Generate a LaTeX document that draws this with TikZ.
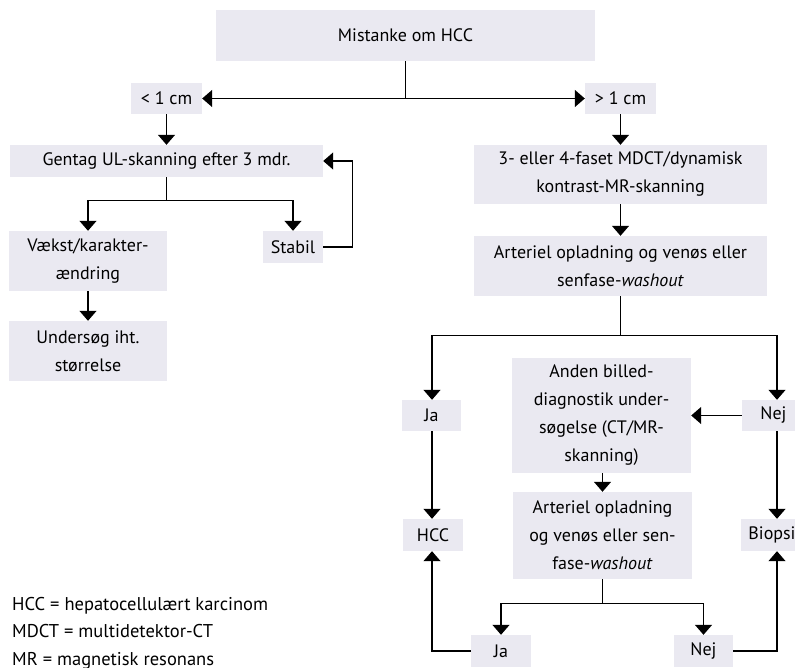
\documentclass[tikz,border=0pt]{standalone}
\usepackage{fontspec}
\setmainfont{PT Sans}
\usetikzlibrary{arrows.meta,calc}
\definecolor{boxfill}{RGB}{234,233,241}
\tikzset{
  box/.style={fill=boxfill, draw=none, inner sep=0pt, align=center,
    font=\fontsize{18}{28}\selectfont},
  conn/.style={line width=1.3pt, draw=black},
  arr/.style={conn, -{Triangle[width=17pt,length=10pt]}},
}
\begin{document}
\begin{tikzpicture}[x=1pt,y=-1pt]
\useasboundingbox (0,0) rectangle (795,668);
% nodes
\node[box, minimum width=379pt, minimum height=51pt] (top) at (405.5,35.5) {Mistanke om HCC};
\node[box, minimum width=71pt, minimum height=31pt] (lt) at (166.5,98.5) {< 1 cm};
\node[box, minimum width=71pt, minimum height=31pt] (gt) at (620.5,98.5) {> 1 cm};
\node[box, minimum width=313pt, minimum height=32pt] (gentag) at (166.5,161) {Gentag UL-skanning efter 3 mdr.};
\node[box, minimum width=158pt, minimum height=60pt] (vaekst) at (88,261) {Vækst/karakter-\\ændring};
\node[box, minimum width=60pt, minimum height=32pt] (stabil) at (293,247) {Stabil};
\node[box, minimum width=158pt, minimum height=60pt] (unders) at (88,351) {Undersøg iht.\\størrelse};
\node[box, minimum width=293pt, minimum height=59pt] (mdct) at (620.5,174.5) {3- eller 4-faset MDCT/dynamisk\\kontrast-MR-skanning};
\node[box, minimum width=293pt, minimum height=60pt] (art1) at (620.5,266) {Arteriel opladning og venøs eller\\senfase-\textit{washout}};
\node[box, minimum width=59pt, minimum height=31pt] (ja1) at (431.5,415.5) {Ja};
\node[box, minimum width=63pt, minimum height=31pt] (nej1) at (773.5,415.5) {Nej};
\node[box, minimum width=179pt, minimum height=115pt] (anden) at (601.5,415.5) {Anden billed-\\diagnostik under-\\søgelse (CT/MR-\\skanning)};
\node[box, minimum width=179pt, minimum height=87pt] (art2) at (602.5,535.5) {Arteriel opladning\\og venøs eller sen-\\fase-\textit{washout}};
\node[box, minimum width=60pt, minimum height=32pt] (hcc) at (433,535) {HCC};
\node[box, minimum width=62pt, minimum height=32pt] (biopsi) at (772,535) {Biopsi};
\node[box, minimum width=60pt, minimum height=32pt] (ja2) at (501,651) {Ja};
\node[box, minimum width=59pt, minimum height=32pt] (nej2) at (703.5,651) {Nej};
\node[anchor=west, align=left, inner sep=0pt, font=\fontsize{18.5}{27.5}\selectfont] (legend) at (12,633)
  {HCC = hepatocellulært karcinom\\MDCT = multidetektor-CT\\MR = magnetisk resonans};
\coordinate (rx) at (777,0);
\coordinate (lx) at (432,0);
% connectors
\draw[conn] (top.south) -- (top.south |- lt.east);
\draw[arr] (top.south |- lt.east) -- (lt.east);
\draw[arr] (top.south |- gt.west) -- (gt.west);
\draw[arr] (lt.south) -- (lt.south |- gentag.north);
\draw[conn] (gentag.south) -- ++(0,23) coordinate (gbar);
\draw[arr] (gbar) -| (vaekst.north);
\draw[arr] (gbar) -| (stabil.north);
\draw[arr] (vaekst.south) -- (unders.north);
\draw[arr] (stabil.east) -- ++(29,0) |- (gentag.east);
\draw[arr] (gt.south) -- (mdct.north);
\draw[arr] (mdct.south) -- (art1.north);
\draw[conn] (art1.south) -- ++(0,39) coordinate (abar);
\draw[arr] (abar) -| (lx |- ja1.north);
\draw[arr] (abar) -| (rx |- nej1.north);
\draw[arr] (nej1.west) -- (nej1.west -| anden.east);
\draw[arr] (anden.south -| art2.north) -- (art2.north);
\draw[conn] (art2.south) -- ++(0,24) coordinate (bbar);
\draw[arr] (bbar) -| (ja2.north);
\draw[arr] (bbar) -| (nej2.north);
\draw[arr] (lx |- ja1.south) -- (lx |- hcc.north);
\draw[arr] (rx |- nej1.south) -- (rx |- biopsi.north);
\draw[arr] (ja2.west) -| (lx |- hcc.south);
\draw[arr] (nej2.east) -| (rx |- biopsi.south);
\end{tikzpicture}
\end{document}
